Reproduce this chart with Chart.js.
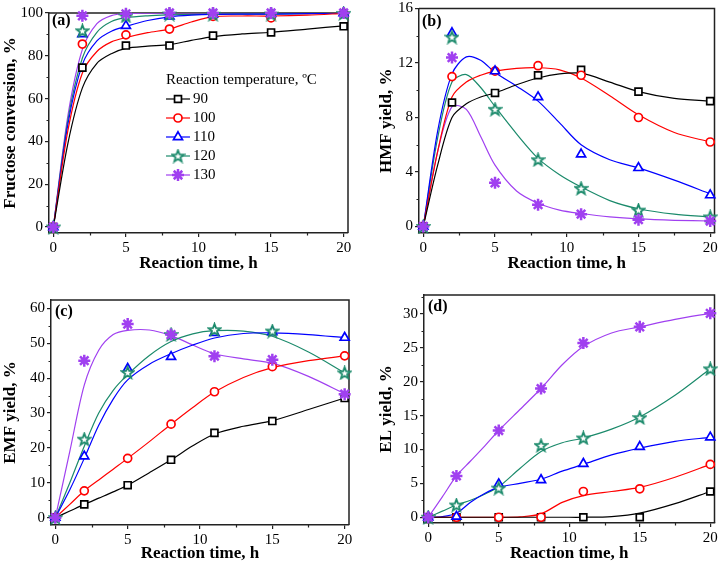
<!DOCTYPE html>
<html>
<head>
<meta charset="utf-8">
<script src="https://cdn.jsdelivr.net/npm/chart.js@4.4.0/dist/chart.umd.min.js"></script>
<style>
  body { margin: 0; background: #fff; }
  #wrap { position: relative; width: 723px; height: 564px; overflow: hidden; }
  canvas { position: absolute; }
</style>
</head>
<body>
<div id="wrap">
  <canvas id="panelA" width="362" height="282" style="left:0;top:0"></canvas>
  <canvas id="panelB" width="361" height="282" style="left:362px;top:0"></canvas>
  <canvas id="panelC" width="362" height="282" style="left:0;top:282px"></canvas>
  <canvas id="panelD" width="361" height="282" style="left:362px;top:282px"></canvas>
</div>
<script>
// sampling times, h
const times = [0, 2, 5, 8, 11, 15, 20];
const fitTimes = [0, 1, 2, 3, 4, 5, 6.5, 8, 9.5, 11, 13, 15, 17.5, 20];
const temps = ['90', '100', '110', '120', '130'];

// (a) fructose conversion, % (rows: 90..130 oC)
const conversion = [
    [0, 74.5, 84.8, 84.8, 89.4, 90.9, 93.8],
    [0, 85.5, 89.8, 92.5, 98.4, 97.7, 99.8],
    [0, 90.2, 94.0, 98.4, 99.4, 99.6, 100],
    [0, 91.7, 98.6, 99.5, 99.4, 99.5, 99.8],
    [0, 98.7, 99.6, 100, 100, 100, 100]
];
const conversionFit = [
    [0, 39, 65, 76.5, 81, 83.5, 84.5, 85.2, 87.2, 89, 90.2, 91, 92.5, 94],
    [0, 45, 72, 82, 86.5, 88.5, 90.8, 92.5, 95.8, 98.3, 98.6, 98.6, 99, 99.8],
    [0, 48, 76, 87, 91.5, 93.7, 96.5, 98.2, 99, 99.4, 99.5, 99.5, 99.7, 100],
    [0, 50, 79, 91, 96, 97.8, 98.7, 99.1, 99.3, 99.4, 99.5, 99.5, 99.7, 99.9],
    [0, 52, 83, 95, 98.8, 99.7, 99.9, 100, 100, 100, 100, 100, 100, 100]
];

// (b) HMF yield, %
const hmfYield = [
    [0, 9.1, 9.8, 11.1, 11.5, 9.9, 9.2],
    [0, 11.0, 11.4, 11.8, 11.1, 8.0, 6.2],
    [0, 14.2, 11.4, 9.5, 5.3, 4.3, 2.3],
    [0, 13.9, 8.6, 4.9, 2.8, 1.2, 0.7],
    [0, 12.4, 3.2, 1.6, 0.9, 0.5, 0.4]
];
const hmfFit = [
    [0, 4.5, 8.0, 9.0, 9.5, 9.8, 10.4, 10.9, 11.2, 11.25, 10.6, 9.9, 9.4, 9.2],
    [0, 5.5, 9.5, 10.6, 11.1, 11.4, 11.6, 11.65, 11.5, 10.9, 9.6, 8.2, 6.9, 6.2],
    [0, 7.0, 11.2, 12.45, 12.2, 11.3, 10.3, 9.2, 7.6, 6.0, 4.9, 4.3, 3.4, 2.4],
    [0, 6.5, 10.6, 11.15, 10.2, 8.8, 6.8, 5.0, 3.8, 2.9, 1.9, 1.3, 0.9, 0.7],
    [0, 5.5, 8.8, 8.6, 6.6, 4.5, 2.6, 1.7, 1.2, 0.95, 0.7, 0.55, 0.45, 0.4]
];

// (c) EMF yield, %
const emfYield = [
    [0, 3.8, 9.3, 16.6, 24.3, 27.7, 34.3],
    [0, 7.7, 17.0, 26.8, 36.1, 43.3, 46.4],
    [0, 17.6, 42.7, 46.1, 53.0, 53.2, 51.6],
    [0, 22.5, 41.6, 52.5, 53.9, 53.5, 41.5],
    [0, 45.0, 55.5, 52.5, 46.3, 45.3, 35.4]
];
const emfFit = [
    [0, 1.9, 3.8, 5.6, 7.4, 9.3, 12.9, 16.6, 20.6, 24.0, 26.2, 27.8, 31.0, 34.3],
    [0, 3.8, 7.7, 10.8, 13.9, 17.0, 21.8, 26.8, 31.6, 36.0, 40.2, 43.0, 45.0, 46.4],
    [0, 8, 17, 26.5, 34, 39.5, 44, 47, 49.5, 51.5, 52.8, 53, 52.5, 51.6],
    [0, 10, 20.5, 30, 36.5, 41, 46.5, 50.5, 52.7, 53.6, 53.5, 52, 47.5, 41.5],
    [0, 19, 38, 48, 52.5, 53.7, 53.8, 52.2, 49.5, 47, 45.5, 44.3, 40.5, 35.5]
];

// (d) EL yield, %
const elYield = [
    [0, 0, 0, 0, 0, 0, 3.8],
    [0, 0, 0, 0, 3.8, 4.2, 7.8],
    [0, 0.1, 4.9, 5.5, 7.9, 10.4, 11.8],
    [0, 1.8, 4.3, 10.6, 11.7, 14.7, 21.9],
    [0, 6.1, 12.8, 19.0, 25.7, 28.1, 30.1]
];
const elFit = [
    [0, 0, 0, 0, 0, 0, 0, 0, 0, 0, 0.1, 0.6, 2.0, 3.8],
    [0, 0, 0, 0, 0, 0, 0.05, 0.5, 2.2, 3.2, 3.8, 4.4, 5.9, 7.8],
    [0, 0.1, 0.6, 2.2, 3.5, 4.4, 5.0, 5.6, 6.8, 7.8, 9.2, 10.2, 11.2, 11.8],
    [0, 0.9, 1.8, 2.5, 3.4, 4.5, 7.2, 9.7, 11.0, 11.7, 13.0, 14.8, 18.0, 21.9],
    [0, 3, 6.1, 8.3, 10.5, 12.8, 15.9, 19.0, 22.5, 25.2, 27.2, 28.1, 29.2, 30.1]
];

const axisColor = '#222';
const serif = "'Liberation Serif', 'Times New Roman', serif";

function makeStar(color) {
    const c = document.createElement('canvas');
    c.width = 15;
    c.height = 15;
    const g = c.getContext('2d');
    g.beginPath();
    for (let i = 0; i < 10; i++) {
        const r = i % 2 ? 2.6 : 6.2;
        const a = -Math.PI / 2 + i * Math.PI / 5;
        g.lineTo(7.5 + r * Math.cos(a), 8 + r * Math.sin(a));
    }
    g.closePath();
    g.fillStyle = '#fff';
    g.fill();
    g.strokeStyle = color;
    g.lineWidth = 1.8;
    g.stroke();
    return c;
}

const colors = ['#000000', '#ff0000', '#0000ff', '#1b8a6b', '#a040f0'];
const markers = [
    { pointStyle: 'rect', radius: 4.9, borderWidth: 1.7 },
    { pointStyle: 'circle', radius: 4, borderWidth: 1.7 },
    { pointStyle: 'triangle', radius: 5.2, borderWidth: 1.7 },
    { pointStyle: makeStar(colors[3]), radius: 6, borderWidth: 1.7 },
    { pointStyle: 'star', radius: 6, borderWidth: 2.5 }
];

// top/right frame and minor ticks
const framePlugin = {
    id: 'frame',
    beforeDatasetsDraw(chart, args, opts) {
        const { ctx, chartArea: a, scales: { x, y } } = chart;
        ctx.save();
        ctx.strokeStyle = axisColor;
        ctx.lineWidth = 1.5;
        ctx.beginPath();
        ctx.moveTo(a.left, a.top);
        ctx.lineTo(a.right, a.top);
        ctx.lineTo(a.right, a.bottom);
        ctx.stroke();

        ctx.lineWidth = 1.2;
        ctx.beginPath();
        for (let v = 2.5; v < x.max; v += 5) {
            const px = Math.round(x.getPixelForValue(v)) + 0.5;
            ctx.moveTo(px, a.bottom);
            ctx.lineTo(px, a.bottom + 2.5);
        }
        for (let v = opts.minor; v < y.max; v += opts.minor * 2) {
            const py = Math.round(y.getPixelForValue(v)) + 0.5;
            ctx.moveTo(a.left, py);
            ctx.lineTo(a.left - 2.5, py);
        }
        ctx.stroke();
        ctx.restore();
    },
    afterDraw(chart, args, opts) {
        const { ctx, chartArea: a } = chart;
        ctx.save();
        ctx.fillStyle = '#000';
        ctx.font = 'bold 16px ' + serif;
        ctx.textBaseline = 'middle';
        ctx.textAlign = 'left';
        ctx.fillText(opts.label, a.left + opts.labelX, a.top + opts.labelY);
        ctx.restore();
    }
};

// legend of panel (a)
const legendPlugin = {
    id: 'tempLegend',
    afterDraw(chart) {
        const ctx = chart.ctx;
        ctx.save();
        ctx.fillStyle = '#000';
        ctx.font = '15px ' + serif;
        ctx.textBaseline = 'middle';
        ctx.textAlign = 'left';
        ctx.fillText('Reaction temperature, \u00baC', 166, 80.5);
        temps.forEach((t, i) => {
            const yy = 99 + i * 19;
            ctx.strokeStyle = colors[i];
            ctx.lineWidth = 1.2;
            ctx.beginPath();
            ctx.moveTo(166, yy);
            ctx.lineTo(190, yy);
            ctx.stroke();
            ctx.fillStyle = '#fff';
            ctx.lineWidth = markers[i].borderWidth;
            Chart.helpers.drawPoint(ctx, {
                pointStyle: markers[i].pointStyle,
                radius: markers[i].radius,
                rotation: 0,
                borderWidth: markers[i].borderWidth
            }, 178, yy);
            ctx.fillStyle = '#000';
            ctx.fillText(t, 193, yy);
        });
        ctx.restore();
    }
};

function makePanel(id, values, fits, cfg) {
    const datasets = [];
    values.forEach((row, i) => {
        datasets.push({
            type: 'line',
            data: fitTimes.map((t, k) => ({ x: t, y: fits[i][k] })),
            borderColor: colors[i],
            borderWidth: 1.2,
            pointRadius: 0,
            tension: 0.3,
            fill: false,
            order: 2
        });
        datasets.push({
            type: 'line',
            data: times.map((t, k) => ({ x: t, y: row[k] })),
            showLine: false,
            borderColor: colors[i],
            backgroundColor: '#fff',
            pointStyle: markers[i].pointStyle,
            pointRadius: markers[i].radius,
            pointBorderWidth: markers[i].borderWidth,
            clip: false,
            order: 1 - i * 0.1
        });
    });

    const plugins = [framePlugin];
    if (cfg.legend) plugins.push(legendPlugin);

    return new Chart(document.getElementById(id), {
        type: 'line',
        data: { datasets },
        plugins,
        options: {
            responsive: false,
            animation: false,
            devicePixelRatio: 1,
            layout: { padding: { left: 0, top: cfg.top, right: cfg.right, bottom: 0 } },
            plugins: {
                legend: { display: false },
                tooltip: { enabled: false },
                frame: { minor: cfg.yStep / 2, label: cfg.label, labelX: cfg.labelX, labelY: cfg.labelY }
            },
            scales: {
                x: {
                    type: 'linear',
                    min: -0.3,
                    max: 20.3,
                    ticks: {
                        stepSize: 5,
                        includeBounds: false,
                        color: '#000',
                        padding: 2,
                        maxRotation: 0,
                        font: { family: serif, size: 15 }
                    },
                    grid: { display: true, drawOnChartArea: false, drawTicks: true, tickLength: 4, color: axisColor, lineWidth: 1.2 },
                    border: { display: true, color: axisColor, width: 1.5 },
                    title: {
                        display: true,
                        text: 'Reaction time, h',
                        color: '#000',
                        font: { family: serif, size: 17, weight: 'bold', lineHeight: 1.2 },
                        padding: { top: 0, bottom: cfg.xTitlePad }
                    },
                    afterFit(scale) {
                        scale.height = cfg.bottom;
                        scale.paddingLeft = 0;
                        scale.paddingRight = 0;
                    }
                },
                y: {
                    type: 'linear',
                    min: cfg.yMin,
                    max: cfg.yMax,
                    ticks: {
                        stepSize: cfg.yStep,
                        includeBounds: false,
                        color: '#000',
                        padding: 2,
                        font: { family: serif, size: 15 }
                    },
                    grid: { display: true, drawOnChartArea: false, drawTicks: true, tickLength: 4, color: axisColor, lineWidth: 1.2 },
                    border: { display: true, color: axisColor, width: 1.5 },
                    title: {
                        display: true,
                        text: cfg.yTitle,
                        color: '#000',
                        font: { family: serif, size: 17, weight: 'bold', lineHeight: 1.2 },
                        padding: { top: cfg.yTitlePad, bottom: 0 }
                    },
                    afterFit(scale) {
                        scale.width = cfg.left;
                        scale.paddingTop = 0;
                        scale.paddingBottom = 0;
                    }
                }
            }
        }
    });
}

makePanel('panelA', conversion, conversionFit, {
    left: 49, top: 13, right: 14, bottom: 49,
    yMin: -2.8, yMax: 100, yStep: 20,
    yTitle: 'Fructose conversion, %', yTitlePad: 0, xTitlePad: 8,
    label: '(a)', labelX: 3, labelY: 8, legend: true
});
makePanel('panelB', hmfYield, hmfFit, {
    left: 57, top: 8, right: 5, bottom: 49,
    yMin: -0.48, yMax: 16, yStep: 4,
    yTitle: 'HMF yield, %', yTitlePad: 14, xTitlePad: 8,
    label: '(b)', labelX: 3, labelY: 13
});
makePanel('panelC', emfYield, emfFit, {
    left: 51, top: 18, right: 13, bottom: 39,
    yMin: -2.1, yMax: 62.4, yStep: 10,
    yTitle: 'EMF yield, %', yTitlePad: 0, xTitlePad: 0,
    label: '(c)', labelX: 4, labelY: 12
});
makePanel('panelD', elYield, elFit, {
    left: 62, top: 13, right: 4, bottom: 41,
    yMin: -0.85, yMax: 32.8, yStep: 5,
    yTitle: 'EL yield, %', yTitlePad: 14, xTitlePad: 0,
    label: '(d)', labelX: 4, labelY: 12
});
</script>
</body>
</html>
